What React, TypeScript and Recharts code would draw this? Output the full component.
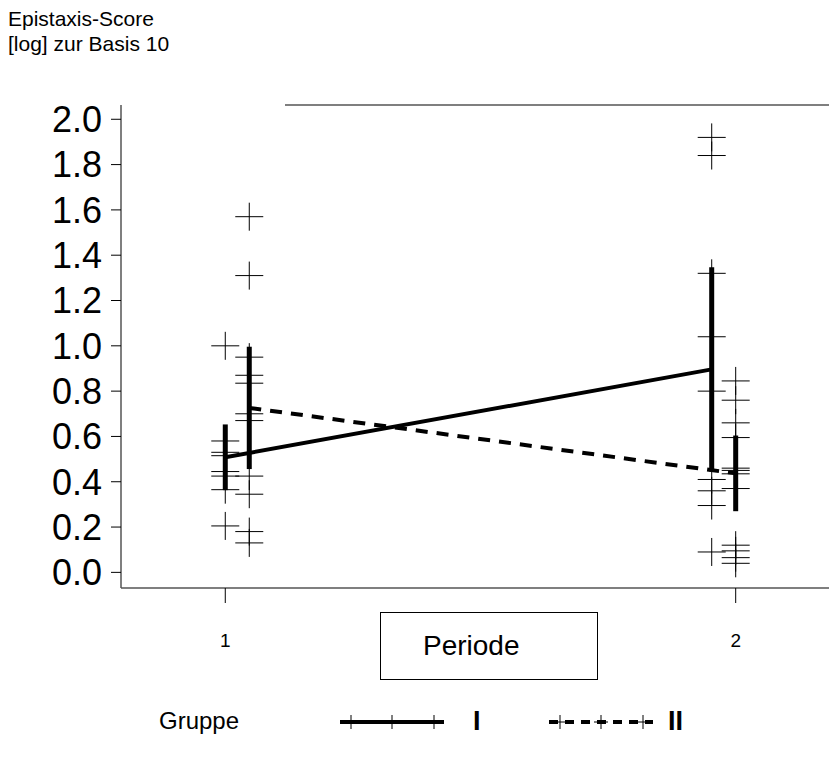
import {
  ComposedChart,
  Line,
  Scatter,
  XAxis,
  YAxis,
  ErrorBar,
  ReferenceLine,
} from "recharts";

// x positions of each group at period 1 and 2 (groups are shifted a bit apart)
const periods = [1, 2];
const groupIX = [1, 1.953];
const groupIIX = [1.047, 2];

// single patient scores, log10
const groupIPeriod1 = [1.0, 0.58, 0.53, 0.515, 0.445, 0.425, 0.365, 0.205];
const groupIIPeriod1 = [1.57, 1.31, 0.95, 0.87, 0.835, 0.7, 0.67, 0.425, 0.345, 0.18, 0.13];
const groupIPeriod2 = [1.92, 1.84, 1.32, 1.04, 0.8, 0.41, 0.36, 0.295, 0.09];
const groupIIPeriod2 = [0.845, 0.76, 0.66, 0.595, 0.46, 0.45, 0.435, 0.37, 0.12, 0.095, 0.065, 0.04];

// group means and bar half-lengths
const groupIMeans = [0.508, 0.896];
const groupIErr = [0.145, 0.451];
const groupIIMeans = [0.726, 0.437];
const groupIIErr = [0.27, 0.167];

const yTicks = [0, 0.2, 0.4, 0.6, 0.8, 1.0, 1.2, 1.4, 1.6, 1.8, 2.0];
const xTickLabels = ["1", "2"];
const groupNames = ["I", "II"];

const X_DOMAIN: [number, number] = [0.7957, 2.1828];
const Y_DOMAIN: [number, number] = [-0.069, 2.063];
const TOP_LINE_START = 1.117;

const pts = (xs: number[], a: number[], b: number[]) => [
  ...a.map((y) => ({ x: xs[0], y })),
  ...b.map((y) => ({ x: xs[1], y })),
];

const groupIPoints = pts(groupIX, groupIPeriod1, groupIPeriod2);
const groupIIPoints = pts(groupIIX, groupIIPeriod1, groupIIPeriod2);

const groupIMean = groupIX.map((x, i) => ({ x, y: groupIMeans[i], err: groupIErr[i] }));
const groupIIMean = groupIIX.map((x, i) => ({ x, y: groupIIMeans[i], err: groupIIErr[i] }));

const Cross = (props: any) => {
  const { cx, cy } = props;
  if (cx == null || cy == null) return null;
  return (
    <g>
      <line x1={cx - 14} x2={cx + 14} y1={cy} y2={cy} stroke="#000" strokeWidth={1} />
      <line x1={cx} x2={cx} y1={cy - 14} y2={cy + 14} stroke="#000" strokeWidth={1} />
    </g>
  );
};

const font = "'Liberation Sans', Arial, sans-serif";

function LegendSample({ x0, dashed }: { x0: number; dashed: boolean }) {
  const y = 722;
  return (
    <g>
      <line
        x1={x0}
        x2={x0 + 104}
        y1={y}
        y2={y}
        stroke="#000"
        strokeWidth={4}
        strokeDasharray={dashed ? "9 7" : undefined}
      />
      {[11, 52, 94].map((d) => (
        <g key={d}>
          <line x1={x0 + d} x2={x0 + d} y1={y - 7} y2={y + 7} stroke="#000" strokeWidth={1} />
          <line x1={x0 + d - 7} x2={x0 + d + 7} y1={y} y2={y} stroke="#000" strokeWidth={1} />
        </g>
      ))}
    </g>
  );
}

export default function App() {
  return (
    <div
      style={{
        position: "absolute",
        left: 0,
        top: 0,
        width: 829,
        height: 760,
        background: "#fff",
        fontFamily: font,
        overflow: "hidden",
      }}
    >
      <div style={{ position: "absolute", left: 8, top: 6, fontSize: 21, lineHeight: "25px" }}>
        Epistaxis-Score
        <br />
        [log] zur Basis 10
      </div>

      <ComposedChart
        width={829}
        height={760}
        margin={{ top: 105, right: 0, bottom: 112, left: 0 }}
      >
        <XAxis
          dataKey="x"
          type="number"
          domain={X_DOMAIN}
          ticks={periods}
          interval={0}
          tickFormatter={(v: number) => xTickLabels[periods.indexOf(v)] ?? ""}
          allowDataOverflow
          height={60}
          tickSize={15}
          tickMargin={31}
          axisLine={{ stroke: "#555", strokeWidth: 1.5 }}
          tickLine={{ stroke: "#000" }}
          tick={{ fill: "#000", fontSize: 19, fontFamily: font }}
        />
        <YAxis
          type="number"
          domain={Y_DOMAIN}
          ticks={yTicks}
          interval={0}
          allowDataOverflow
          width={121}
          tickSize={10}
          tickMargin={9}
          tickFormatter={(v: number) => v.toFixed(1)}
          axisLine={{ stroke: "#555", strokeWidth: 1.5 }}
          tickLine={{ stroke: "#000" }}
          tick={{ fill: "#000", fontSize: 36, fontFamily: font }}
        />
        <ReferenceLine
          segment={[
            { x: TOP_LINE_START, y: Y_DOMAIN[1] },
            { x: X_DOMAIN[1], y: Y_DOMAIN[1] },
          ]}
          stroke="#555"
          strokeWidth={1.5}
        />
        <Scatter
          data={groupIPoints}
          dataKey="y"
          shape={<Cross />}
          isAnimationActive={false}
        />
        <Scatter
          data={groupIIPoints}
          dataKey="y"
          shape={<Cross />}
          isAnimationActive={false}
        />
        <Line
          data={groupIMean}
          dataKey="y"
          stroke="#000"
          strokeWidth={4}
          dot={false}
          activeDot={false}
          isAnimationActive={false}
        >
          <ErrorBar dataKey="err" width={0} strokeWidth={5} stroke="#000" direction="y" />
        </Line>
        <Line
          data={groupIIMean}
          dataKey="y"
          stroke="#000"
          strokeWidth={4}
          strokeDasharray="12 9"
          dot={false}
          activeDot={false}
          isAnimationActive={false}
        >
          <ErrorBar dataKey="err" width={0} strokeWidth={5} stroke="#000" direction="y" />
        </Line>
      </ComposedChart>

      <div
        style={{
          position: "absolute",
          left: 380,
          top: 612,
          width: 218,
          height: 68,
          border: "1.5px solid #000",
          display: "flex",
          alignItems: "center",
          paddingLeft: 42,
          boxSizing: "border-box",
          fontSize: 28,
        }}
      >
        Periode
      </div>

      <svg
        width={829}
        height={760}
        style={{ position: "absolute", left: 0, top: 0, pointerEvents: "none" }}
      >
        <text x={159} y={729} fontSize={24} fontFamily={font} fill="#000">
          Gruppe
        </text>
        <LegendSample x0={340} dashed={false} />
        <text x={473} y={730} fontSize={27} fontWeight="bold" fontFamily={font} fill="#000">
          {groupNames[0]}
        </text>
        <LegendSample x0={549} dashed />
        <text x={668} y={730} fontSize={27} fontWeight="bold" fontFamily={font} fill="#000">
          {groupNames[1]}
        </text>
      </svg>
    </div>
  );
}
